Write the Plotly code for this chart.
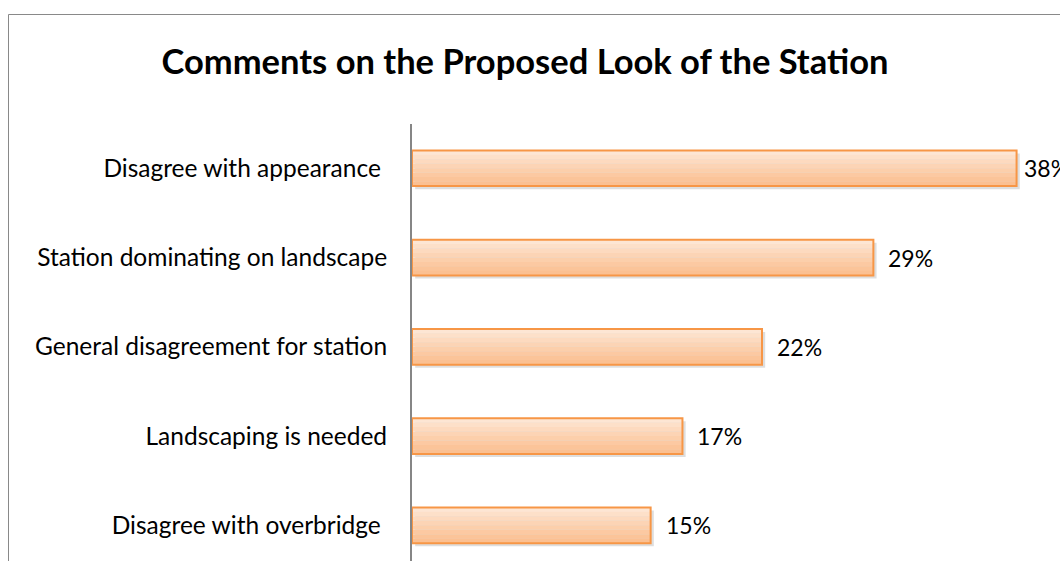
import plotly.graph_objects as go

categories = ["Disagree with overbridge\u00a0", "Landscaping is needed",
              "General disagreement for station", "Station dominating on landscape",
              "Disagree with appearance\u00a0"]
values = [0.15, 0.17, 0.22, 0.29, 0.38]
labels = ["15%", "17%", "22%", "29%", "38%"]
title = "Comments on the Proposed Look of the Station"

FONT = "Lato, Carlito, Calibri, sans-serif"
BAR_W = 0.40
grad = ["#fde6d4", "#fde0c9", "#fddabf", "#fcd4b5", "#fccfab", "#fcc9a2", "#fbc499", "#fbc092"]

fig = go.Figure()

# shadow
fig.add_trace(go.Bar(
    y=categories, x=values, base=0.0020, orientation="h", width=BAR_W,
    offset=-BAR_W / 2 - 0.035, marker=dict(color="rgba(0,0,0,0.13)", line=dict(width=0)),
    hoverinfo="skip", showlegend=False))

# gradient slices
n = len(grad)
for i, c in enumerate(grad):
    sw = BAR_W / n
    fig.add_trace(go.Bar(
        y=categories, x=values, orientation="h", width=sw * 1.02,
        offset=BAR_W / 2 - (i + 1) * sw,
        marker=dict(color=c, line=dict(width=0)), hoverinfo="skip", showlegend=False))

# outline
fig.add_trace(go.Bar(
    y=categories, x=values, orientation="h", width=BAR_W,
    marker=dict(color="rgba(0,0,0,0)", line=dict(color="#f79646", width=2)),
    showlegend=False))

vmax = max(values)
for c, v, t in zip(categories, values, labels):
    # like Excel, the label that would not fit is pulled closer to its bar
    fig.add_annotation(x=v, y=c, text=t, showarrow=False, xanchor="left",
                       xshift=13 if v < vmax else 5,
                       font=dict(family=FONT, size=23, color="#000000"))

fig.add_shape(type="rect", xref="paper", yref="paper",
              x0=(8.5 - 412) / 648, x1=1.2, y0=-0.2, y1=(561 - 14.5) / 437,
              line=dict(color="#898989", width=1), fillcolor="rgba(0,0,0,0)", layer="above")

fig.update_layout(
    width=1060, height=561,
    margin=dict(l=412, r=0, t=124, b=0, pad=0),
    paper_bgcolor="white", plot_bgcolor="white",
    barmode="overlay",
    title=dict(text="<b>" + title + "</b>", x=525 / 1060, xanchor="center",
               y=1 - 62 / 561, yanchor="middle", xref="container", yref="container",
               font=dict(family=FONT, size=34.5, color="#000000")),
    xaxis=dict(range=[0, 0.4073], visible=False, showgrid=False, zeroline=False),
    yaxis=dict(type="category", categoryorder="array", categoryarray=categories,
               range=[-0.4, 4.496], showline=True, linecolor="#868686", linewidth=2,
               showgrid=False, zeroline=False, ticks="", ticklabelstandoff=18,
               tickfont=dict(family=FONT, size=24.5, color="#000000")),
    showlegend=False,
)

fig.write_html("out.html", config={"displayModeBar": False},
               post_script="document.body.style.margin='0';document.body.style.overflow='hidden';")
